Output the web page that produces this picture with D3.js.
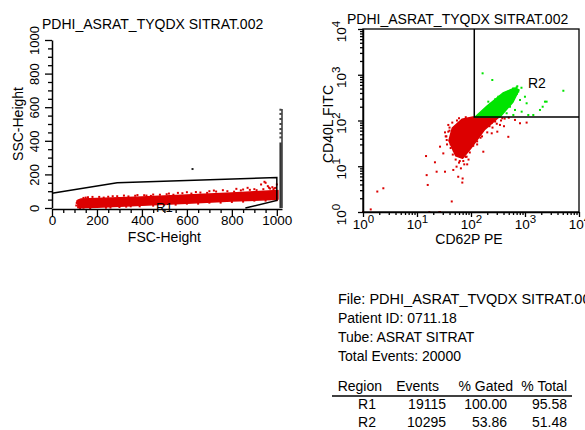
<!DOCTYPE html>
<html>
<head>
<meta charset="utf-8">
<script src="https://cdn.jsdelivr.net/npm/d3@7"></script>
<style>
  body { margin: 0; background: #fff; }
  svg { display: block; }
</style>
</head>
<body>
<script>
// --- data ---
const fileName = 'PDHI_ASRAT_TYQDX SITRAT.002';

// FSC / SSC plot (linear channels)
const linMajorTicks = [0, 200, 400, 600, 800, 1000];
const linMinorTicks = [50, 100, 150, 250, 300, 350, 450, 500, 550, 650, 700, 750, 850, 900, 950];
const gateR1 = [[0, 88], [290, 150], [1000, 182], [1000, 45], [860, 0]];
const r1BandLower = [[115, 2], [200, 5], [400, 16], [600, 29], [800, 41], [1005, 52]];
const r1BandUpper = [[1005, 104], [900, 97], [800, 90], [600, 78], [400, 66], [200, 56], [130, 54], [115, 46]];
const r1RedDots = [
  [150, 62], [180, 66], [250, 67], [320, 74], [380, 77], [450, 80], [520, 86], [560, 90],
  [640, 95], [700, 100], [760, 106], [820, 114], [870, 120], [900, 112], [930, 140], [950, 150],
  [960, 130], [980, 124], [1000, 140], [990, 118], [850, 110], [600, 94], [420, 74], [270, 70],
  [140, 60], [108, 15], [125, 0], [118, 28], [700, 32], [800, 36], [900, 44], [500, 20],
  [350, 10], [600, 26], [965, 121], [945, 156], [985, 112], [720, 104], [240, 2], [300, 6],
  [160, 64], [210, 66], [230, 62], [290, 70], [340, 69], [370, 73], [410, 76], [440, 72],
  [480, 79], [510, 82], [540, 79], [580, 88], [620, 86], [660, 92], [690, 90], [730, 98],
  [780, 100], [810, 97], [840, 105], [880, 108], [910, 106], [940, 112], [970, 116], [995, 120],
  [140, 2], [170, 0], [260, 3], [330, 8], [390, 10], [450, 14], [550, 20], [650, 26],
  [750, 32], [850, 38], [950, 44], [1000, 47], [110, 30], [112, 40]
];
const satColumn = [0, 390];
const satDots = [420, 445, 470, 500, 530, 560, 585];
const strayDots = [[625, 232]];

// CD62P / CD40L plot (log decades)
const decades = [0, 1, 2, 3, 4];
const gateR2 = [115, 120];
const redCore = [
  [109, 119], [330, 119], [180, 64], [100, 25], [70, 15], [52, 17], [39, 36], [45, 68], [68, 106]
];
const greenCore = [
  [119, 119], [344, 119], [600, 254], [774, 464], [653, 513], [391, 400], [198, 207]
];
const redDots = [
  [14.7, 16.7], [15.1, 6.4], [15.8, 3.9], [21.5, 12.2], [23.1, 7.6], [33, 7.6], [47, 8.3],
  [58, 5.9], [70, 5.4], [69, 4.4], [44, 1.7], [1.84, 2.8], [2.38, 3.3], [1.39, 1.14],
  [1, 1], [16.9, 1], [25.9, 1], [26.7, 1], [344, 80], [491, 44], [808, 87], [1072, 90],
  [653, 103], [169, 20.8], [110, 40.7], [242, 52.5], [26.7, 26.8], [35.5, 37.5], [38, 57],
  [30.7, 19.1], [54, 9.8], [83, 16.2], [307, 57], [408, 75], [42, 30], [48, 22], [60, 12],
  [75, 11], [90, 14], [130, 30], [160, 45], [220, 75], [280, 95], [34, 45], [40, 70],
  [35, 45], [33, 55], [38, 80], [45, 90], [55, 100], [60, 112], [80, 118], [40, 60],
  [36, 30], [42, 25], [46, 18], [52, 14], [62, 13], [72, 13], [80, 16], [95, 20],
  [110, 28], [130, 35], [150, 42], [200, 55], [250, 70], [300, 85], [360, 100], [420, 110],
  [500, 115], [260, 100], [200, 95], [380, 112], [240, 88], [65, 9], [85, 11], [58, 20]
];
const greenDots = [
  [164, 1075], [248, 768], [209, 258], [299, 170], [397, 238], [491, 281], [527, 200],
  [653, 170], [808, 281], [867, 156], [998, 331], [1072, 238], [1151, 132], [1425, 132],
  [1894, 170], [2344, 258], [2512, 258], [2125, 200], [5130, 447], [457, 144], [608, 132],
  [344, 156], [182, 170], [320, 331], [702, 380], [566, 331], [860, 520], [720, 560],
  [130, 125], [150, 140], [180, 170], [230, 230], [280, 290], [350, 330], [420, 380],
  [500, 440], [600, 500], [700, 530], [250, 180], [300, 210], [400, 260], [480, 300],
  [550, 330], [650, 380], [750, 430]
];

// acquisition summary
const infoLines = [
  'File: PDHI_ASRAT_TVQDX SITRAT.002',
  'Patient ID: 0711.18',
  'Tube: ASRAT SITRAT',
  'Total Events: 20000'
];
const tableHeader = ['Region', 'Events', '% Gated', '% Total'];
const tableRows = [
  ['R1', '19115', '100.00', '95.58'],
  ['R2', '10295', '53.86', '51.48']
];

// --- drawing ---
const width = 585;
const height = 430;
const red = '#dc0000';
const green = '#00e400';
const font = '"Liberation Sans", Arial, sans-serif';

const svg = d3.select('body')
  .append('svg')
  .attr('width', width)
  .attr('height', height)
  .style('font-family', font);

const dots = (g, data, x, y, color) => g.append('g')
  .selectAll('rect')
  .data(data)
  .join('rect')
    .attr('x', d => x(d[0]) - 1)
    .attr('y', d => y(d[1]) - 1)
    .attr('width', 2).attr('height', 2)
    .attr('fill', color);

const styleAxis = g => {
  g.select('.domain').attr('stroke-width', 1.5);
  g.selectAll('.tick line').attr('stroke-width', 1.3);
};

// ---------- left: FSC vs SSC ----------
const x1 = d3.scaleLinear([0, 1023], [52, 282]);
const y1 = d3.scaleLinear([0, 1000], [208, 40]);
const line1 = d3.line(d => x1(d[0]), d => y1(d[1]));

svg.append('text')
  .attr('x', 42).attr('y', 29)
  .attr('font-size', 14)
  .text(fileName);

const left = svg.append('g');

left.append('path')
  .attr('d', line1([...r1BandLower, ...r1BandUpper]) + 'Z')
  .attr('fill', red)
  .attr('stroke', red)
  .attr('stroke-width', 1.5)
  .attr('stroke-linejoin', 'round');

dots(left, r1RedDots, x1, y1, red);

left.append('line')
  .attr('x1', x1(1016)).attr('x2', x1(1016))
  .attr('y1', y1(satColumn[0])).attr('y2', y1(satColumn[1]))
  .attr('stroke', '#333').attr('stroke-width', 2);

dots(left, satDots.map(v => [1016, v]), x1, y1, '#444');
dots(left, strayDots, x1, y1, '#222');

left.append('path')
  .attr('d', line1(gateR1))
  .attr('fill', 'none')
  .attr('stroke', '#000')
  .attr('stroke-width', 1.5);

left.append('line')
  .attr('x1', x1(1023)).attr('x2', x1(1023))
  .attr('y1', y1(0)).attr('y2', y1(590))
  .attr('stroke', '#000').attr('stroke-width', 1.2);

left.append('text')
  .attr('x', x1(500)).attr('y', y1(0) + 4)
  .attr('font-size', 13)
  .attr('text-anchor', 'middle')
  .text('R1');

left.append('g')
  .attr('transform', `translate(0,${y1(0) + 1})`)
  .call(d3.axisBottom(x1).tickValues(linMinorTicks).tickSize(4).tickFormat(''))
  .call(g => g.select('.domain').remove())
  .call(styleAxis);

left.append('g')
  .attr('transform', `translate(0,${y1(0) + 1})`)
  .call(d3.axisBottom(x1).tickValues(linMajorTicks).tickSize(7).tickSizeOuter(0).tickFormat(d3.format('d')))
  .call(styleAxis)
  .call(g => g.selectAll('text')
    .attr('font-family', font)
    .attr('font-size', 13.5)
    .attr('fill', '#000')
    .attr('y', 6));

left.append('g')
  .attr('transform', `translate(${x1(0)},0)`)
  .call(d3.axisLeft(y1).tickValues(linMinorTicks).tickSize(4).tickFormat(''))
  .call(g => g.select('.domain').remove())
  .call(styleAxis);

left.append('g')
  .attr('transform', `translate(${x1(0)},0)`)
  .call(d3.axisLeft(y1).tickValues(linMajorTicks).tickSize(7).tickSizeOuter(0).tickFormat(d3.format('d')))
  .call(styleAxis)
  .call(g => g.selectAll('text')
    .attr('font-family', font)
    .attr('font-size', 13)
    .attr('fill', '#000')
    .attr('x', 0).attr('dy', 0)
    .attr('text-anchor', 'middle')
    .attr('transform', 'translate(-13,0) rotate(-90)'));

left.append('text')
  .attr('x', x1(500)).attr('y', 242)
  .attr('font-size', 14)
  .attr('text-anchor', 'middle')
  .text('FSC-Height');

left.append('text')
  .attr('transform', `translate(23,${y1(500)}) rotate(-90)`)
  .attr('font-size', 14)
  .attr('text-anchor', 'middle')
  .text('SSC-Height');

// ---------- right: CD62P vs CD40L ----------
const x2 = d3.scaleLog([1, 10000], [363, 579]);
const y2 = d3.scaleLog([1, 10000], [212, 29]);
const line2 = d3.line(d => x2(d[0]), d => y2(d[1]));
const majorLog = decades.map(e => 10 ** e);
const minorLog = decades.slice(0, -1).flatMap(e => d3.range(2, 10).map(m => m * 10 ** e));

svg.append('text')
  .attr('x', 347).attr('y', 24)
  .attr('font-size', 14)
  .text(fileName);

const right = svg.append('g');

right.append('path')
  .attr('d', line2(redCore) + 'Z')
  .attr('fill', red)
  .attr('stroke', red)
  .attr('stroke-width', 1.5)
  .attr('stroke-linejoin', 'round');

right.append('path')
  .attr('d', line2(greenCore) + 'Z')
  .attr('fill', green)
  .attr('stroke', green)
  .attr('stroke-width', 1.5)
  .attr('stroke-linejoin', 'round');

dots(right, redDots, x2, y2, red);
dots(right, greenDots, x2, y2, green);

right.append('rect')
  .attr('x', x2(1)).attr('y', y2(10000))
  .attr('width', x2(10000) - x2(1))
  .attr('height', y2(1) - y2(10000))
  .attr('fill', 'none')
  .attr('stroke', '#000')
  .attr('stroke-width', 1.3);

right.append('path')
  .attr('d', line2([[gateR2[0], 10000], [gateR2[0], gateR2[1]], [10000, gateR2[1]]]))
  .attr('fill', 'none')
  .attr('stroke', '#000')
  .attr('stroke-width', 1.5);

right.append('text')
  .attr('x', 528).attr('y', 88)
  .attr('font-size', 14)
  .text('R2');

const powerLabel = (sel, exps) => sel.each(function(d, i) {
  const t = d3.select(this).text('10');
  t.append('tspan')
    .attr('dy', '-0.5em')
    .attr('font-size', 11.5)
    .text(exps[i]);
});

right.append('g')
  .attr('transform', `translate(0,${y2(1)})`)
  .call(d3.axisBottom(x2).tickValues(minorLog).tickSize(3).tickFormat(''))
  .call(g => g.select('.domain').remove())
  .call(styleAxis);

right.append('g')
  .attr('transform', `translate(0,${y2(1)})`)
  .call(d3.axisBottom(x2).tickValues(majorLog).tickSize(5).tickSizeOuter(0).tickFormat(''))
  .call(styleAxis)
  .call(g => g.selectAll('text')
    .attr('font-family', font)
    .attr('font-size', 13.5)
    .attr('fill', '#000')
    .attr('y', 7).attr('dy', '0.71em')
    .call(powerLabel, decades));

right.append('g')
  .attr('transform', `translate(${x2(1)},0)`)
  .call(d3.axisLeft(y2).tickValues(minorLog).tickSize(3).tickFormat(''))
  .call(g => g.select('.domain').remove())
  .call(styleAxis);

right.append('g')
  .attr('transform', `translate(${x2(1)},0)`)
  .call(d3.axisLeft(y2).tickValues(majorLog).tickSize(5).tickSizeOuter(0).tickFormat(''))
  .call(styleAxis)
  .call(g => g.selectAll('text')
    .attr('font-family', font)
    .attr('font-size', 13.5)
    .attr('fill', '#000')
    .attr('x', 0).attr('dy', 0)
    .attr('text-anchor', 'middle')
    .attr('transform', 'translate(-17,2) rotate(-90)')
    .call(powerLabel, decades));

right.append('text')
  .attr('x', 469).attr('y', 244)
  .attr('font-size', 14)
  .attr('text-anchor', 'middle')
  .text('CD62P PE');

right.append('text')
  .attr('transform', 'translate(333,124) rotate(-90)')
  .attr('font-size', 14)
  .attr('text-anchor', 'middle')
  .text('CD40L FITC');

// ---------- summary text ----------
const info = svg.append('g').attr('font-size', 14);

info.selectAll('text')
  .data(infoLines)
  .join('text')
    .attr('x', 338)
    .attr('y', (d, i) => 304 + i * 19)
    .attr('font-size', (d, i) => i === 0 ? 14.5 : null)
    .text(d => d);

const headerRight = [382, 439, 513, 567];
const cellRight = [376, 446, 507, 567];

info.append('g')
  .selectAll('text')
  .data(tableHeader)
  .join('text')
    .attr('x', (d, i) => headerRight[i])
    .attr('y', 391)
    .attr('text-anchor', 'end')
    .text(d => d);

info.append('line')
  .attr('x1', 332).attr('x2', 572)
  .attr('y1', 396).attr('y2', 396)
  .attr('stroke', '#000').attr('stroke-width', 1.3);

info.append('g')
  .selectAll('g')
  .data(tableRows)
  .join('g')
    .attr('transform', (d, i) => `translate(0,${409 + i * 18})`)
  .selectAll('text')
  .data(d => d)
  .join('text')
    .attr('x', (d, i) => cellRight[i])
    .attr('text-anchor', 'end')
    .text(d => d);
</script>
</body>
</html>
